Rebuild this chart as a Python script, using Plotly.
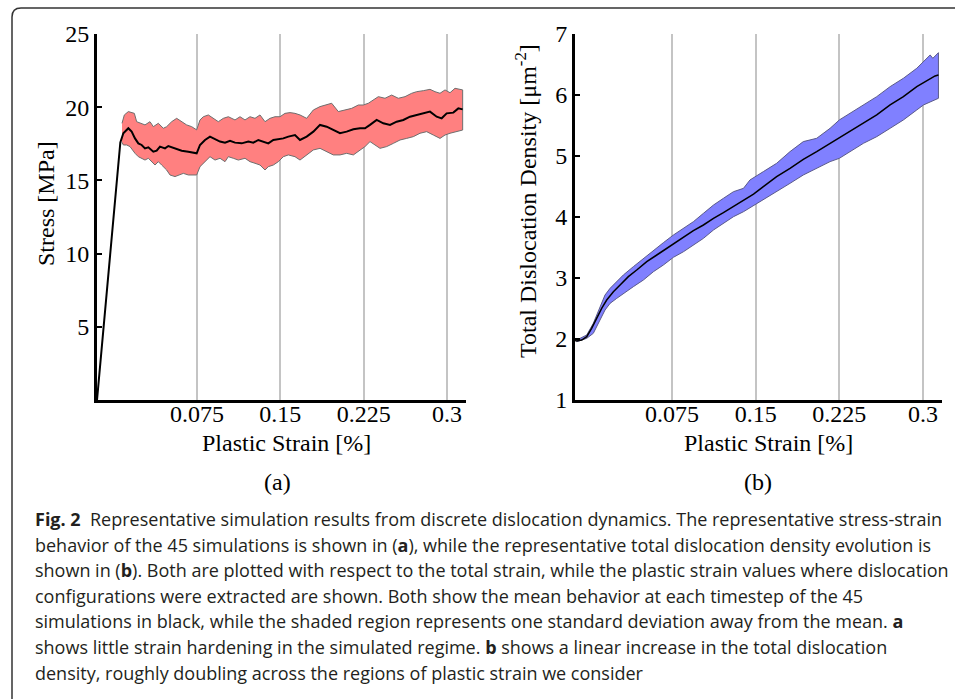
import plotly.graph_objects as go

W, H = 955, 699

# ---------------- Data: panel (a) stress ----------------
stress_mean_x = [-0.015, -0.0033, 0.0027, 0.0060, 0.0087, 0.0117, 0.0132, 0.0162, 0.0192, 0.0222, 0.0252,
                 0.0282, 0.0312, 0.0357, 0.0387, 0.0417, 0.0462, 0.0492, 0.0522, 0.0567, 0.0612,
                 0.0672, 0.0717, 0.0747, 0.0777, 0.0822, 0.0867, 0.0912, 0.0957, 0.1002, 0.1047,
                 0.1092, 0.1152, 0.1212, 0.1257, 0.1302, 0.1347, 0.1392, 0.1437, 0.1482, 0.1527,
                 0.1572, 0.1632, 0.1677, 0.1737, 0.1797, 0.1857, 0.1917, 0.1977, 0.2037, 0.2097,
                 0.2157, 0.2217, 0.2262, 0.2307, 0.2367, 0.2427, 0.2487, 0.2547, 0.2607, 0.2667,
                 0.2727, 0.2787, 0.2847, 0.2907, 0.2952, 0.2997, 0.3057, 0.3102, 0.3141]
stress_mean = [0.0, 10.0, 15.1, 17.6, 18.22, 18.49, 18.56, 18.33, 17.87, 17.53, 17.42,
               17.19, 17.26, 16.96, 17.03, 17.31, 17.19, 17.35, 17.26, 17.12, 17.03,
               16.96, 16.90, 16.85, 17.42, 17.76, 17.99, 17.81, 17.65, 17.58, 17.71,
               17.58, 17.53, 17.65, 17.58, 17.76, 17.65, 17.53, 17.76, 17.81, 17.87,
               17.99, 18.10, 17.76, 17.99, 18.33, 18.79, 18.67, 18.44, 18.22, 18.33,
               18.49, 18.56, 18.56, 18.79, 19.13, 18.90, 18.79, 19.01, 19.13, 19.35,
               19.47, 19.58, 19.70, 19.35, 19.24, 19.58, 19.63, 19.92, 19.85]

stress_upper_x = [0.0075, 0.0096, 0.0132, 0.0186, 0.0207, 0.0252, 0.0282, 0.0327, 0.0357, 0.0402,
                  0.0447, 0.0477, 0.0522, 0.0567, 0.0612, 0.0657, 0.0702, 0.0747, 0.0777, 0.0807,
                  0.0852, 0.0897, 0.0942, 0.0987, 0.1032, 0.1092, 0.1137, 0.1182, 0.1227, 0.1272,
                  0.1317, 0.1362, 0.1407, 0.1452, 0.1497, 0.1542, 0.1587, 0.1632, 0.1677, 0.1737,
                  0.1797, 0.1857, 0.1917, 0.1962, 0.2022, 0.2082, 0.2142, 0.2202, 0.2247, 0.2292,
                  0.2337, 0.2382, 0.2442, 0.2502, 0.2562, 0.2622, 0.2682, 0.2727, 0.2787, 0.2847,
                  0.2892, 0.2937, 0.2982, 0.3027, 0.3072, 0.3141]
stress_upper = [18.9, 19.47, 19.70, 19.58, 19.01, 18.90, 18.79, 19.01, 18.67, 18.90,
                18.56, 18.67, 19.01, 19.24, 19.01, 18.79, 18.67, 18.45, 19.13, 19.35,
                19.47, 19.24, 19.01, 19.24, 19.35, 19.13, 19.35, 19.13, 19.35, 19.24,
                19.47, 19.01, 19.24, 19.35, 19.35, 19.58, 19.63, 19.58, 19.47, 19.24,
                19.81, 20.04, 20.15, 20.27, 19.70, 19.81, 19.92, 20.15, 20.15, 20.27,
                20.49, 20.72, 20.61, 20.83, 20.61, 20.72, 20.95, 21.06, 21.13, 21.22,
                21.06, 20.95, 21.18, 20.99, 21.29, 21.18]

stress_lower_x = [0.0075, 0.0087, 0.0117, 0.0147, 0.0192, 0.0222, 0.0252, 0.0282, 0.0312, 0.0342,
                  0.0372, 0.0402, 0.0432, 0.0477, 0.0507, 0.0552, 0.0582, 0.0627, 0.0672, 0.0717,
                  0.0747, 0.0777, 0.0822, 0.0867, 0.0912, 0.0957, 0.1002, 0.1032, 0.1077, 0.1122,
                  0.1182, 0.1227, 0.1272, 0.1317, 0.1362, 0.1392, 0.1437, 0.1482, 0.1527, 0.1572,
                  0.1632, 0.1677, 0.1737, 0.1797, 0.1857, 0.1917, 0.1977, 0.2037, 0.2097, 0.2157,
                  0.2217, 0.2262, 0.2307, 0.2352, 0.2397, 0.2457, 0.2517, 0.2577, 0.2637, 0.2697,
                  0.2757, 0.2817, 0.2877, 0.2937, 0.2982, 0.3027, 0.3072, 0.3141]
stress_lower = [17.6, 17.42, 17.42, 17.31, 16.85, 16.62, 16.51, 16.39, 16.51, 16.28,
                16.05, 16.28, 16.05, 15.71, 15.37, 15.26, 15.37, 15.48, 15.37, 15.37,
                15.37, 15.94, 16.28, 16.62, 16.39, 16.51, 16.28, 16.62, 16.51, 16.39,
                16.51, 16.28, 16.17, 16.05, 15.71, 15.94, 16.05, 16.28, 16.62, 16.74,
                16.62, 16.39, 16.74, 17.08, 17.19, 16.96, 16.74, 16.74, 16.85, 16.74,
                17.08, 17.31, 17.65, 17.42, 17.19, 17.31, 17.53, 17.76, 17.87, 17.99,
                18.22, 18.33, 18.10, 17.87, 18.10, 18.22, 18.33, 18.44]

# ---------------- Data: panel (b) dislocation density ----------------
dens_mean_x = [-0.0119, -0.0104, -0.0059, -0.0014, 0.0030, 0.0075, 0.0120, 0.0165, 0.0225, 0.0285,
               0.0359, 0.0434, 0.0524, 0.0614, 0.0703, 0.0763, 0.0853, 0.0942, 0.1032, 0.1122,
               0.1211, 0.1301, 0.1391, 0.1481, 0.1569, 0.1688, 0.1808, 0.1927, 0.2047, 0.2167,
               0.2250, 0.2346, 0.2466, 0.2585, 0.2705, 0.2824, 0.2944, 0.3004, 0.3064, 0.3108, 0.3138]
dens_mean = [1.975, 1.967, 1.983, 2.038, 2.175, 2.339, 2.502, 2.639, 2.776, 2.885,
             3.022, 3.131, 3.268, 3.377, 3.486, 3.557, 3.677, 3.776, 3.869, 3.978,
             4.071, 4.169, 4.278, 4.375, 4.498, 4.662, 4.798, 4.946, 5.072, 5.208,
             5.290, 5.399, 5.536, 5.673, 5.837, 5.973, 6.137, 6.203, 6.257, 6.312, 6.328]

dens_upper_x = [-0.0104, -0.0014, 0.0045, 0.0105, 0.0150, 0.0195, 0.0255, 0.0314, 0.0404, 0.0494,
                0.0584, 0.0673, 0.0763, 0.0853, 0.0942, 0.1032, 0.1122, 0.1211, 0.1301, 0.1391,
                0.1449, 0.1569, 0.1688, 0.1808, 0.1927, 0.2047, 0.2167, 0.2250, 0.2346, 0.2466,
                0.2585, 0.2705, 0.2824, 0.2944, 0.3004, 0.3064, 0.3088, 0.3138]
dens_upper = [1.983, 2.065, 2.257, 2.530, 2.721, 2.830, 2.940, 3.049, 3.186, 3.322,
              3.459, 3.579, 3.705, 3.814, 3.923, 4.060, 4.196, 4.306, 4.415, 4.470,
              4.607, 4.744, 4.880, 5.072, 5.236, 5.290, 5.454, 5.591, 5.700, 5.837,
              5.973, 6.137, 6.274, 6.438, 6.547, 6.656, 6.601, 6.694]

dens_lower_x = [-0.0104, -0.0014, 0.0045, 0.0105, 0.0150, 0.0195, 0.0255, 0.0314, 0.0404, 0.0494,
                0.0584, 0.0673, 0.0763, 0.0853, 0.0942, 0.1032, 0.1122, 0.1211, 0.1301, 0.1391,
                0.1449, 0.1569, 0.1688, 0.1808, 0.1927, 0.2047, 0.2167, 0.2250, 0.2346, 0.2466,
                0.2585, 0.2705, 0.2824, 0.2944, 0.3004, 0.3064, 0.3138]
dens_lower = [1.956, 2.011, 2.093, 2.311, 2.475, 2.584, 2.666, 2.748, 2.858, 2.967,
              3.104, 3.213, 3.339, 3.431, 3.541, 3.650, 3.787, 3.896, 4.005, 4.087,
              4.143, 4.279, 4.416, 4.552, 4.689, 4.798, 4.908, 4.962, 5.072, 5.208,
              5.317, 5.454, 5.591, 5.755, 5.837, 5.892, 5.946]

# ---------------- Ticks and text ----------------
x_tickvals = [0.075, 0.15, 0.225, 0.3]
x_ticktext = ["0.075", "0.15", "0.225", "0.3"]
stress_ticks = [5, 10, 15, 20, 25]
dens_ticks = [1, 2, 3, 4, 5, 6, 7]

caption_lines = [
    "<b>Fig. 2</b>  Representative simulation results from discrete dislocation dynamics. The representative stress-strain",
    "behavior of the 45 simulations is shown in (<b>a</b>), while the representative total dislocation density evolution is",
    "shown in (<b>b</b>). Both are plotted with respect to the total strain, while the plastic strain values where dislocation",
    "configurations were extracted are shown. Both show the mean behavior at each timestep of the 45",
    "simulations in black, while the shaded region represents one standard deviation away from the mean. <b>a</b>",
    "shows little strain hardening in the simulated regime. <b>b</b> shows a linear increase in the total dislocation",
    "density, roughly doubling across the regions of plastic strain we consider",
]


def px(x):
    return x / W


def py(y):
    return 1 - y / H


SERIF = "Liberation Serif, Times New Roman, serif"
SANS = "Open Sans, Noto Sans, sans-serif"

fig = go.Figure()

# panel (a)
fig.add_trace(go.Scatter(
    x=stress_upper_x + stress_lower_x[::-1], y=stress_upper + stress_lower[::-1],
    fill="toself", fillcolor="rgb(255,128,128)", mode="lines",
    line=dict(color="#6e6e6e", width=1), xaxis="x", yaxis="y", hoverinfo="skip"))
fig.add_trace(go.Scatter(
    x=stress_mean_x, y=stress_mean, mode="lines",
    line=dict(color="black", width=2), xaxis="x", yaxis="y"))

# panel (b)
fig.add_trace(go.Scatter(
    x=dens_upper_x + dens_lower_x[::-1], y=dens_upper + dens_lower[::-1],
    fill="toself", fillcolor="rgb(128,128,255)", mode="lines",
    line=dict(color="#5a5a8a", width=1), xaxis="x2", yaxis="y2", hoverinfo="skip"))
fig.add_trace(go.Scatter(
    x=dens_mean_x, y=dens_mean, mode="lines",
    line=dict(color="black", width=1.5), xaxis="x2", yaxis="y2"))

tickfont = dict(family=SERIF, size=24, color="black")
xaxis_common = dict(
    tickvals=x_tickvals, ticktext=x_ticktext, showgrid=True, gridcolor="#c4c4c4", gridwidth=1.5,
    showline=True, linecolor="black", linewidth=3, ticks="", zeroline=False, tickfont=tickfont,
    ticklabelstandoff=-10, automargin=False)
yaxis_common = dict(
    showgrid=False, showline=True, linecolor="black", linewidth=3, ticks="inside",
    ticklen=5, tickwidth=2, tickcolor="black", zeroline=False, tickfont=tickfont,
    automargin=False)

fig.update_layout(
    width=W, height=H, autosize=False,
    margin=dict(l=0, r=0, t=0, b=0, pad=0, autoexpand=False),
    paper_bgcolor="white", plot_bgcolor="white", showlegend=False,
    xaxis=dict(domain=[px(97), px(466)], range=[-0.015, 0.3171], anchor="y", **xaxis_common),
    yaxis=dict(domain=[py(400), py(34)], range=[0, 25], tickvals=stress_ticks, anchor="x", **yaxis_common),
    xaxis2=dict(domain=[px(575), px(942)], range=[-0.0119, 0.317], anchor="y2", **xaxis_common),
    yaxis2=dict(domain=[py(400), py(34)], range=[1, 7], tickvals=dens_ticks, anchor="x2", **yaxis_common),
)

annotations = [
    dict(text="Stress [MPa]", x=px(46), y=py(204), textangle=-90),
    dict(text="Total Dislocation Density [μm<sup>-2</sup>]", x=px(526), y=py(201), textangle=-90),
    dict(text="Plastic Strain [%]", x=px(286), y=py(443)),
    dict(text="Plastic Strain [%]", x=px(768), y=py(443)),
    dict(text="(a)", x=px(277), y=py(482)),
    dict(text="(b)", x=px(758), y=py(482)),
]
for a in annotations:
    fig.add_annotation(xref="paper", yref="paper", xanchor="center", yanchor="middle",
                       showarrow=False, font=dict(family=SERIF, size=24, color="black"), **a)

for i, line in enumerate(caption_lines):
    fig.add_annotation(xref="paper", yref="paper", x=px(33), y=py(519 + 25.6 * i),
                       xanchor="left", yanchor="middle", showarrow=False, text=line,
                       font=dict(family=SANS, size=18, color="#231f20"))

# rounded frame border
r = 9
path = (f"M {px(12)},{py(705)} L {px(12)},{py(8 + r)} "
        f"Q {px(12)},{py(8)} {px(12 + r)},{py(8)} L {px(965)},{py(8)}")
fig.add_shape(type="path", xref="paper", yref="paper", path=path,
              line=dict(color="#333333", width=1.5))

fig.write_html("out.html", config={"displayModeBar": False},
               post_script="document.body.style.margin='0px';document.body.style.overflow='hidden';")
